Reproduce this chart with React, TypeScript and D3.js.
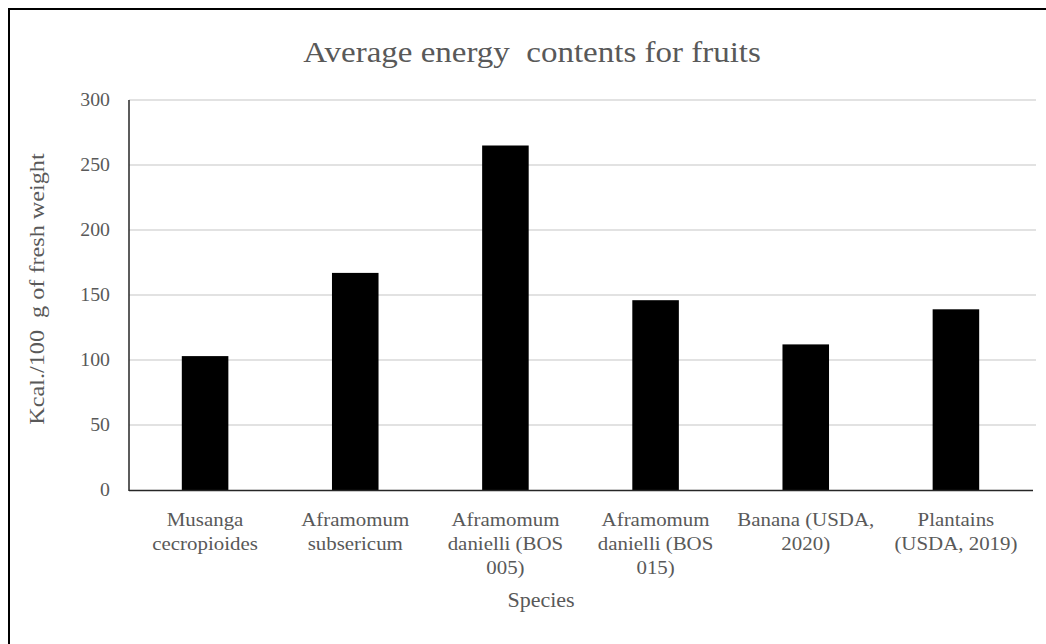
import React from "react";
import * as d3 from "d3";

// Average energy content per 100 g of fresh weight, by species
const categories: string[][] = [
  ["Musanga", "cecropioides"],
  ["Aframomum", "subsericum"],
  ["Aframomum", "danielli (BOS", "005)"],
  ["Aframomum", "danielli (BOS", "015)"],
  ["Banana (USDA,", "2020)"],
  ["Plantains", "(USDA, 2019)"],
];
const energyKcal: number[] = [103, 167, 265, 146, 112, 139];
const yTicks: number[] = [0, 50, 100, 150, 200, 250, 300];

const titleText = "Average energy  contents for fruits";
const yTitle = "Kcal./100  g of fresh weight";
const xTitle = "Species";

const W = 1046;
const H = 644;
const FONT = "'Liberation Serif', 'Times New Roman', serif";
const TEXT = "#595959";
const SX = 1.1; // horizontal text stretch

const plot = { left: 129, right: 1036, top: 100, bottom: 490 };

function StretchText({
  x,
  y,
  size,
  anchor = "middle",
  rotate = 0,
  children,
}: {
  x: number;
  y: number;
  size: number;
  anchor?: string;
  rotate?: number;
  children: React.ReactNode;
}) {
  return (
    <g transform={`translate(${x},${y}) rotate(${rotate}) scale(${SX},1)`}>
      <text
        x={0}
        y={0}
        fontSize={size}
        fontFamily={FONT}
        fill={TEXT}
        textAnchor={anchor}
        style={{ whiteSpace: "pre" }}
      >
        {children}
      </text>
    </g>
  );
}

export default function App() {
  const keys = categories.map((c) => c.join(" "));
  const x = d3.scaleBand<string>().domain(keys).range([130, 1031]).paddingInner(0.69).paddingOuter(0.345);
  const y = d3.scaleLinear().domain([0, 300]).range([plot.bottom, plot.top]);

  return (
    <svg
      width={W}
      height={H}
      style={{ position: "absolute", left: 0, top: 0, display: "block", background: "#fff" }}
    >
      {/* outer frame */}
      <rect x={9} y={9} width={W + 20} height={H + 20} fill="none" stroke="#000" strokeWidth={2} />

      {/* title */}
      <StretchText x={532} y={62} size={30}>
        {titleText}
      </StretchText>

      {/* gridlines */}
      {yTicks
        .filter((t) => t > 0)
        .map((t) => (
          <line
            key={t}
            x1={plot.left}
            x2={plot.right}
            y1={y(t)}
            y2={y(t)}
            stroke="#d9d9d9"
            strokeWidth={1.5}
          />
        ))}

      {/* bars */}
      {energyKcal.map((v, i) => (
        <rect
          key={keys[i]}
          x={x(keys[i])}
          y={y(v)}
          width={x.bandwidth()}
          height={y(0) - y(v)}
          fill="#000"
        />
      ))}

      {/* axes */}
      <line x1={plot.left} x2={plot.left} y1={plot.top} y2={plot.bottom + 1} stroke="#262626" strokeWidth={1.5} />
      <line x1={plot.left} x2={1033} y1={plot.bottom + 0.5} y2={plot.bottom + 0.5} stroke="#262626" strokeWidth={1.5} />

      {/* y tick labels */}
      {yTicks.map((t) => (
        <StretchText key={t} x={110} y={y(t) + 6} size={18} anchor="end">
          {String(t)}
        </StretchText>
      ))}

      {/* x category labels */}
      {categories.map((lines, i) => {
        const cx = (x(keys[i]) as number) + x.bandwidth() / 2;
        return lines.map((ln, j) => (
          <StretchText key={`${i}-${j}`} x={cx} y={526 + j * 24} size={19}>
            {ln}
          </StretchText>
        ));
      })}

      {/* axis titles */}
      <StretchText x={(plot.left + 1033) / 2 - 40} y={607} size={20}>
        {xTitle}
      </StretchText>
      <StretchText x={44} y={289} size={22} rotate={-90}>
        {yTitle}
      </StretchText>
    </svg>
  );
}
